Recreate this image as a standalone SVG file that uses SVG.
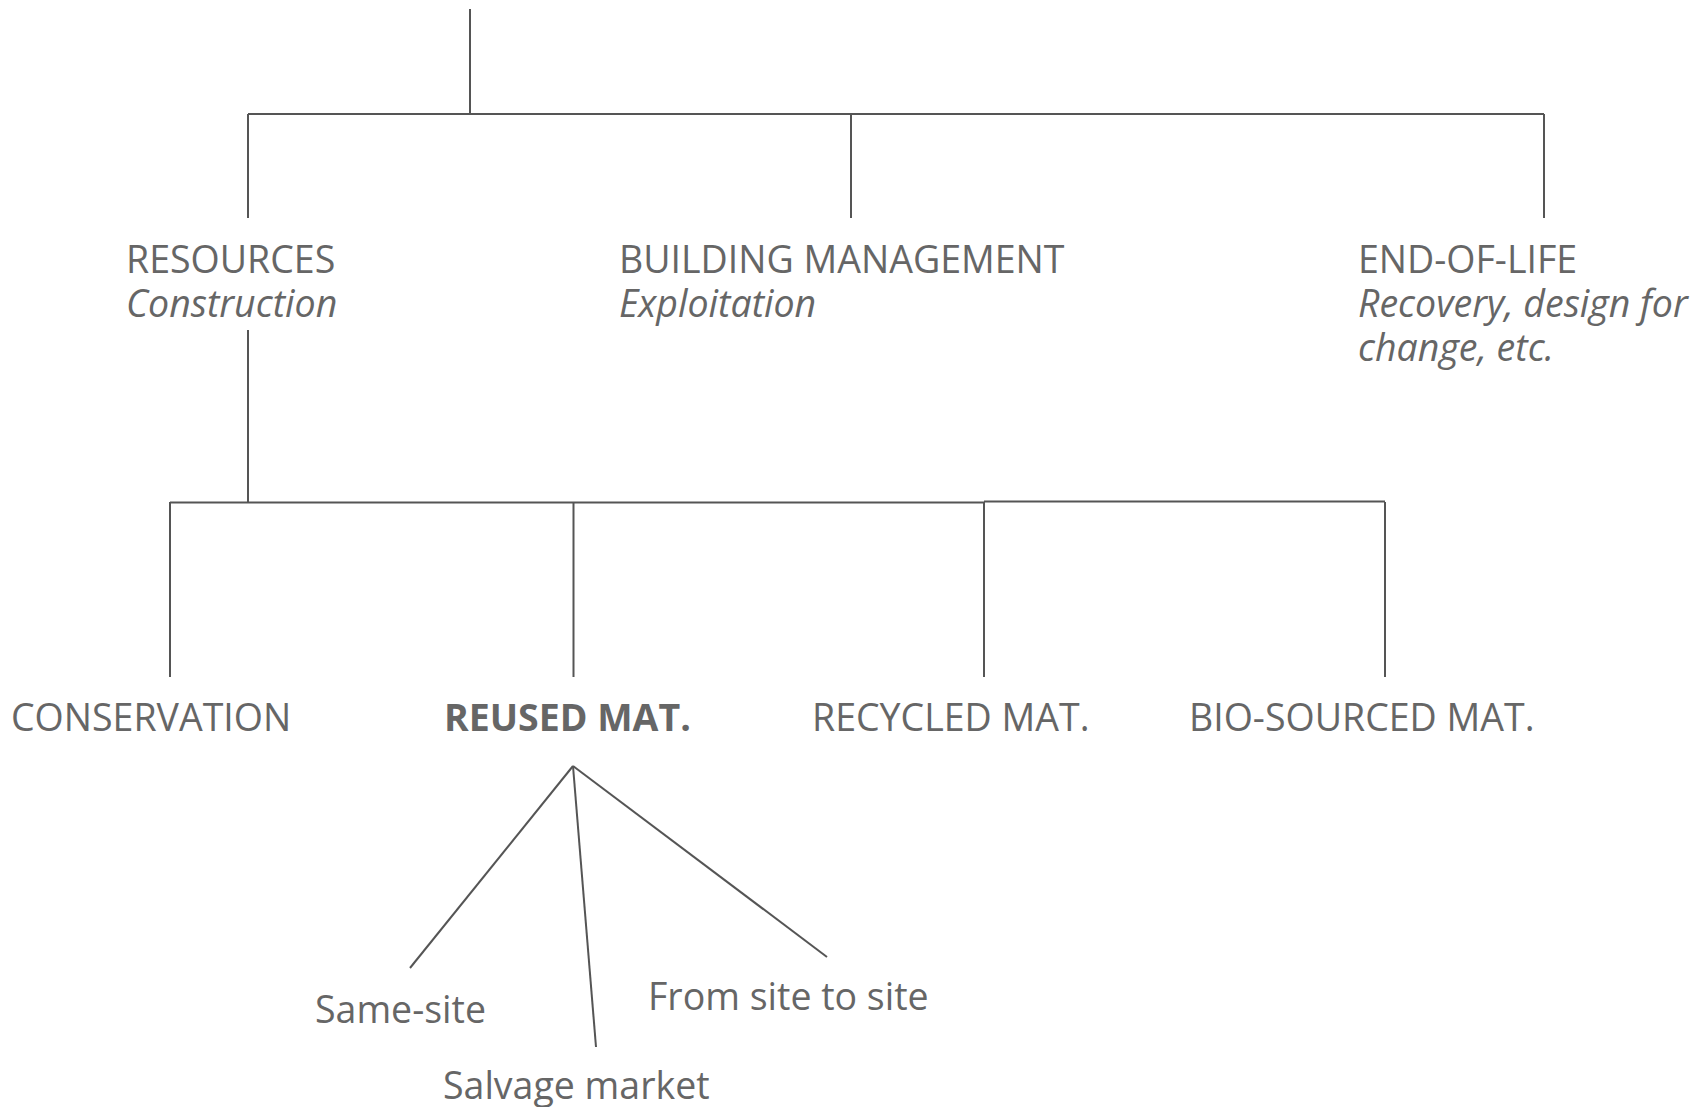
<svg xmlns="http://www.w3.org/2000/svg" width="1702" height="1107" viewBox="0 0 1702 1107">
<style>
text{font-family:"Open Sans","Noto Sans","DejaVu Sans",sans-serif;font-size:37.5px;fill:#666666}
.it{font-style:italic}
.b{font-weight:bold}
.c line{stroke:#555;stroke-width:2;fill:none}
</style>
<rect width="1702" height="1107" fill="#fff"/>
<g id="connectors" class="c">
<line x1="470" y1="9" x2="470" y2="114"/>
<line x1="248" y1="114" x2="1544" y2="114"/>
<line x1="248" y1="114" x2="248" y2="218"/>
<line x1="851" y1="114" x2="851" y2="218"/>
<line x1="1544" y1="114" x2="1544" y2="218"/>
<line x1="248" y1="330" x2="248" y2="503"/>
<line x1="170" y1="502.5" x2="984" y2="502.5"/>
<line x1="984" y1="501.5" x2="1385" y2="501.5"/>
<line x1="170" y1="502" x2="170" y2="677"/>
<line x1="573.5" y1="502" x2="573.5" y2="677"/>
<line x1="984" y1="502" x2="984" y2="677"/>
<line x1="1385" y1="502" x2="1385" y2="677"/>
<line x1="573" y1="766" x2="410" y2="968"/>
<line x1="573" y1="766" x2="596" y2="1047"/>
<line x1="573" y1="766" x2="827" y2="957"/>
</g>
<g id="resources"><text x="126" y="273">RESOURCES</text><text class="it" x="126" y="317">Construction</text></g>
<g id="building-management"><text x="619" y="273">BUILDING MANAGEMENT</text><text class="it" x="619" y="317">Exploitation</text></g>
<g id="end-of-life"><text x="1358" y="273">END-OF-LIFE</text><text class="it" x="1358" y="317">Recovery, design for</text><text class="it" x="1358" y="361">change, etc.</text></g>
<g id="conservation"><text x="11" y="731">CONSERVATION</text></g>
<g id="reused"><text class="b" x="444" y="731">REUSED MAT.</text></g>
<g id="recycled"><text x="812" y="731">RECYCLED MAT.</text></g>
<g id="bio-sourced"><text x="1189" y="731">BIO-SOURCED MAT.</text></g>
<g id="same-site"><text x="315" y="1023">Same-site</text></g>
<g id="salvage-market"><text x="443" y="1099">Salvage market</text></g>
<g id="site-to-site"><text x="648" y="1010">From site to site</text></g>
</svg>
